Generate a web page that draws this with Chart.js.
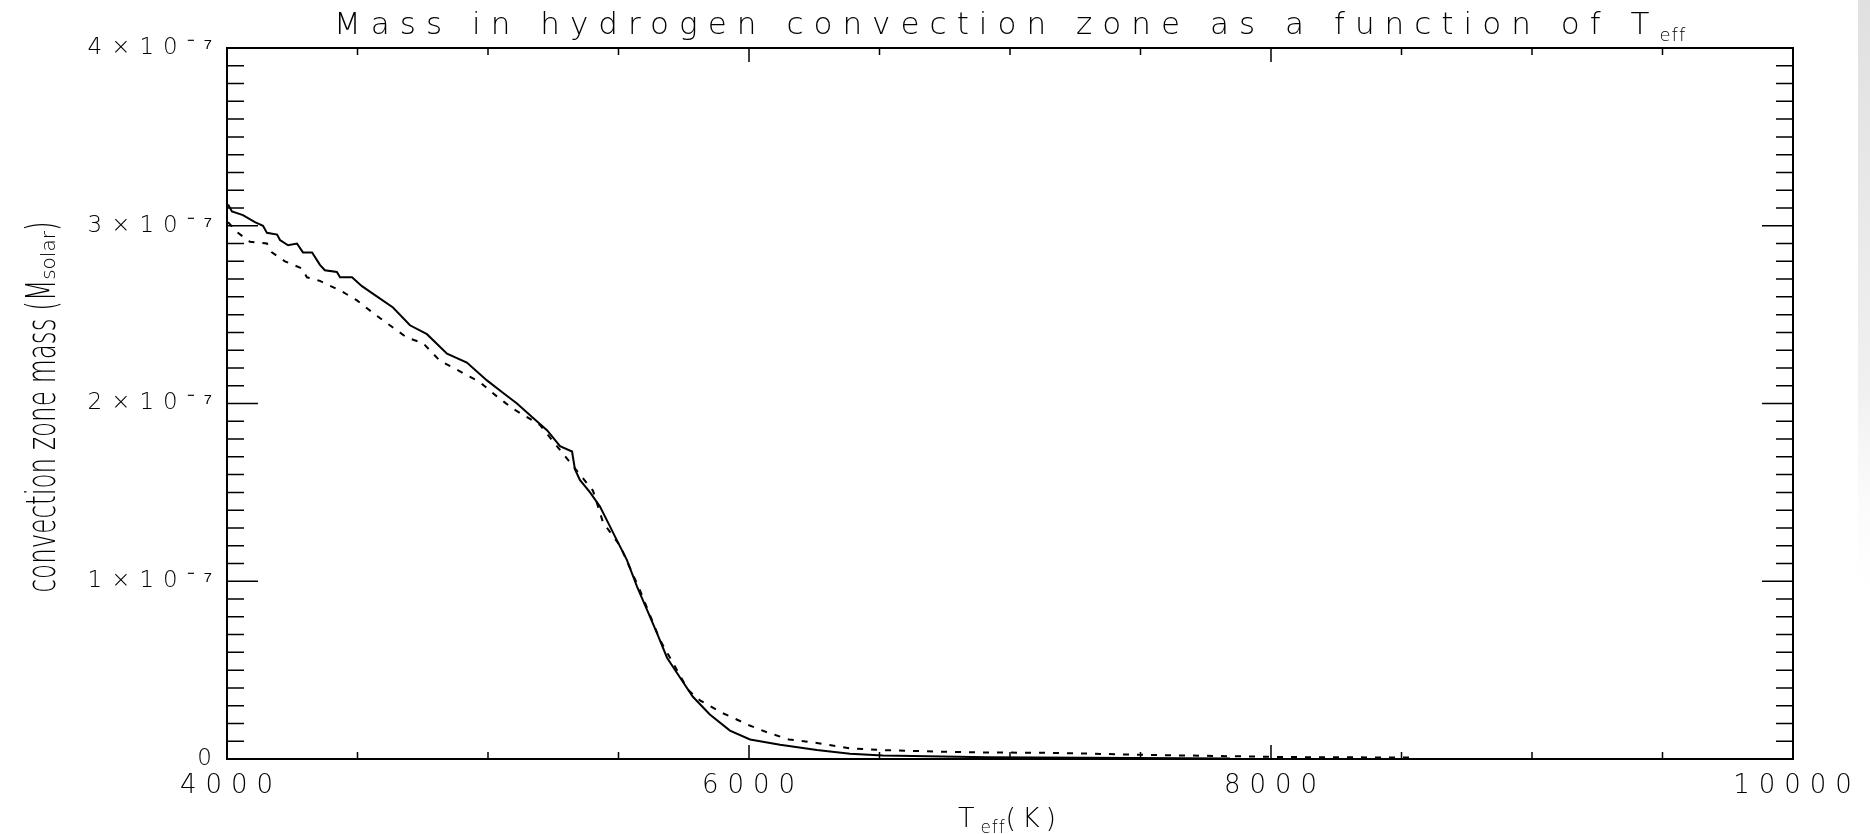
<!DOCTYPE html>
<html>
<head>
<meta charset="utf-8">
<title>Mass in hydrogen convection zone as a function of Teff</title>
<script src="https://cdn.jsdelivr.net/npm/chart.js@4.4.1/dist/chart.umd.min.js"></script>
<style>
  html, body { margin: 0; padding: 0; background: #fff; overflow: hidden; }
  canvas { display: block; }
</style>
</head>
<body>
<canvas id="czChart" width="1870" height="834"></canvas>
<script>
// ================================
// Data (mass in units of 1e-7 M_solar)
// ================================

// solid curve
const teffSolid = [4004, 4019, 4061, 4107, 4138, 4153, 4192, 4203, 4234, 4268,
                   4291, 4326, 4356, 4375, 4421, 4433, 4479, 4517, 4567, 4636,
                   4701, 4766, 4843, 4919, 4996, 5057, 5111, 5172, 5226, 5276,
                   5322, 5333, 5352, 5391, 5429, 5460, 5494, 5532, 5571, 5609,
                   5647, 5686, 5735, 5785, 5850, 5927, 6004, 6119, 6260, 6387,
                   6513, 6915, 7843];
const massSolid = [3.12, 3.08, 3.06, 3.02, 3.00, 2.96, 2.95, 2.92, 2.89, 2.90,
                   2.85, 2.85, 2.78, 2.75, 2.74, 2.71, 2.71, 2.66, 2.61, 2.54,
                   2.44, 2.39, 2.28, 2.23, 2.13, 2.06, 2.00, 1.92, 1.85, 1.76,
                   1.73, 1.63, 1.57, 1.50, 1.42, 1.33, 1.23, 1.12, 0.97, 0.84,
                   0.71, 0.57, 0.46, 0.35, 0.25, 0.16, 0.11, 0.08, 0.05, 0.03,
                   0.02, 0.01, 0.003];

// dotted curve
const teffDotted = [4004, 4042, 4088, 4153, 4172, 4222, 4287, 4306, 4356, 4441,
                    4498, 4559, 4624, 4690, 4751, 4816, 4881, 4969, 5034, 5096,
                    5199, 5264, 5402, 5441, 5506, 5582, 5659, 5766, 5812, 5896,
                    5927, 6000, 6069, 6153, 6260, 6387, 6513, 6643, 6770, 6908,
                    7180, 7521, 7797, 8034, 8544];
const massDotted = [3.02, 2.96, 2.91, 2.90, 2.85, 2.80, 2.76, 2.71, 2.69, 2.63,
                    2.58, 2.51, 2.44, 2.37, 2.34, 2.24, 2.19, 2.12, 2.04, 1.97,
                    1.88, 1.76, 1.51, 1.33, 1.20, 0.95, 0.67, 0.39, 0.33, 0.26,
                    0.24, 0.19, 0.15, 0.11, 0.09, 0.06, 0.05, 0.045, 0.04, 0.037,
                    0.034, 0.023, 0.017, 0.011, 0.008];

// axes
const xTickValues = [4000, 6000, 8000, 10000];
const xTickLabels = ['4000', '6000', '8000', '10000'];
const yTickValues = [0, 1, 2, 3, 4];
const yTickLabels = ['0', '1×10⁻⁷', '2×10⁻⁷', '3×10⁻⁷', '4×10⁻⁷'];
const xMinorStep = 500;
const yMinorStep = 0.1;

// ================================
// Text helpers
// ================================

const FONT = '"DejaVu Sans", "Liberation Sans", sans-serif';
const WEIGHT = '200';
const INK = '#000';

const fontOf = size => `${WEIGHT} ${size}px ${FONT}`;

function partWidths(ctx, parts) {
  ctx.letterSpacing = '0px';
  return parts.map(p => {
    ctx.font = fontOf(p.size);
    return ctx.measureText(p.text).width;
  });
}

// letter-spaced text with tight sub-scripts, stretched to a given width
function drawSpaced(ctx, parts, cx, baseline, width) {
  const SUB_GAP = 1;
  const widths = partWidths(ctx, parts);
  let fixed = 0, nSpaced = 0;
  parts.forEach((p, i) => {
    const n = [...p.text].length;
    fixed += widths[i];
    if (p.sub) fixed += SUB_GAP * n; else nSpaced += n;
  });
  const spacing = Math.max(0, (width - fixed) / nSpaced);
  let xPos = cx - width / 2;
  ctx.textAlign = 'left';
  ctx.textBaseline = 'alphabetic';
  parts.forEach((p, i) => {
    const s = p.sub ? SUB_GAP : spacing;
    ctx.font = fontOf(p.size);
    ctx.letterSpacing = s + 'px';
    ctx.fillText(p.text, xPos, baseline + (p.dy || 0));
    xPos += widths[i] + s * [...p.text].length;
  });
  ctx.letterSpacing = '0px';
}

// rotated, condensed y-axis title
function drawYTitle(ctx, baseX, cy, length) {
  const parts = [
    { text: 'convection zone mass (M', size: 40, squeeze: true },
    { text: 'solar', size: 20, dy: 0 },
    { text: ')', size: 40, squeeze: true }
  ];
  const widths = partWidths(ctx, parts);
  let wMain = 0, wSub = 0;
  parts.forEach((p, i) => { if (p.squeeze) wMain += widths[i]; else wSub += widths[i]; });
  const sx = (length - wSub) / wMain;

  ctx.save();
  ctx.translate(baseX, cy);
  ctx.rotate(-Math.PI / 2);
  ctx.textAlign = 'left';
  ctx.textBaseline = 'alphabetic';
  let pos = -length / 2;
  parts.forEach((p, i) => {
    const s = p.squeeze ? sx : 1;
    ctx.save();
    ctx.translate(pos, p.dy || 0);
    ctx.scale(s, 1);
    ctx.font = fontOf(p.size);
    ctx.fillText(p.text, 0, 0);
    ctx.restore();
    pos += widths[i] * s;
  });
  ctx.restore();
}

// ================================
// Frame, inward ticks and titles (IDL style)
// ================================

const idlFrame = {
  id: 'idlFrame',
  beforeDraw(chart) {
    const ctx = chart.ctx;
    // faint grey strip at the right edge of the original screenshot
    const g = ctx.createLinearGradient(0, 0, 0, 640);
    g.addColorStop(0, '#e0e0e0');
    g.addColorStop(0.6, '#f0f0f0');
    g.addColorStop(1, 'rgba(255,255,255,0)');
    ctx.save();
    ctx.fillStyle = g;
    ctx.fillRect(1858, 0, 12, 640);
    ctx.restore();
    ctx.letterSpacing = '9px';   // wide tick labels
  },
  beforeDatasetsDraw(chart) {
    chart.ctx.letterSpacing = '0px';
  },
  afterDraw(chart) {
    const { ctx, chartArea: a, scales: { x, y } } = chart;
    ctx.save();
    ctx.strokeStyle = INK;

    // ticks on all four sides, pointing inward
    ctx.lineWidth = 1.5;
    ctx.beginPath();
    const nx = Math.round((x.max - x.min) / xMinorStep);
    for (let i = 1; i < nx; i++) {
      const v = x.min + i * xMinorStep;
      const px = x.getPixelForValue(v);
      const len = (v % 2000 === 0) ? 14 : 7;
      ctx.moveTo(px, a.bottom); ctx.lineTo(px, a.bottom - len);
      ctx.moveTo(px, a.top); ctx.lineTo(px, a.top + len);
    }
    const ny = Math.round((y.max - y.min) / yMinorStep);
    for (let i = 1; i < ny; i++) {
      const py = y.getPixelForValue(y.min + i * yMinorStep);
      const len = (i % 10 === 0) ? 31 : 17;
      ctx.moveTo(a.left, py); ctx.lineTo(a.left + len, py);
      ctx.moveTo(a.right, py); ctx.lineTo(a.right - len, py);
    }
    ctx.stroke();

    // box
    ctx.lineWidth = 2;
    ctx.strokeRect(a.left, a.top, a.right - a.left, a.bottom - a.top);

    // titles
    ctx.fillStyle = INK;
    const cx = (a.left + a.right) / 2;
    drawSpaced(ctx, [
      { text: 'Mass in hydrogen convection zone as a function of T', size: 31 },
      { text: 'eff', size: 18, dy: 7, sub: true }
    ], cx, 34, 1352);
    drawSpaced(ctx, [
      { text: 'T', size: 27 },
      { text: 'eff', size: 17, dy: 6, sub: true },
      { text: '(K)', size: 27 }
    ], cx, 827, 104);
    drawYTitle(ctx, 55, 407, 371);

    ctx.restore();
  }
};

// ================================
// Chart
// ================================

const toPoints = (xs, ys) => xs.map((t, i) => ({ x: t, y: ys[i] }));

new Chart(document.getElementById('czChart'), {
  type: 'line',
  data: {
    datasets: [
      {
        label: 'solid',
        data: toPoints(teffSolid, massSolid),
        borderColor: '#000',
        borderWidth: 2,
        pointRadius: 0,
        tension: 0,
        fill: false
      },
      {
        label: 'dotted',
        data: toPoints(teffDotted, massDotted),
        borderColor: '#000',
        borderWidth: 2,
        borderDash: [6, 8],
        pointRadius: 0,
        tension: 0,
        fill: false
      }
    ]
  },
  options: {
    responsive: false,
    animation: false,
    layout: { padding: { left: 0, right: 77, top: 48, bottom: 0 } },
    plugins: {
      legend: { display: false },
      tooltip: { enabled: false },
      title: { display: false }
    },
    scales: {
      x: {
        type: 'linear',
        min: 4000,
        max: 10000,
        grid: { display: false, drawTicks: false },
        border: { display: false },
        afterBuildTicks: s => { s.ticks = xTickValues.map(v => ({ value: v })); },
        afterFit: s => { s.height = 75; },
        ticks: {
          autoSkip: false,
          maxRotation: 0,
          padding: 12,
          labelOffset: 4,
          color: INK,
          font: { family: FONT, size: 26, weight: WEIGHT },
          callback: (v, i) => xTickLabels[i]
        }
      },
      y: {
        type: 'linear',
        min: 0,
        max: 4,
        grid: { display: false, drawTicks: false },
        border: { display: false },
        afterBuildTicks: s => { s.ticks = yTickValues.map(v => ({ value: v })); },
        afterFit: s => { s.width = 227; },
        ticks: {
          padding: 6,
          color: INK,
          font: { family: FONT, size: 23, weight: WEIGHT },
          callback: (v, i) => yTickLabels[i]
        }
      }
    }
  },
  plugins: [idlFrame]
});
</script>
</body>
</html>
